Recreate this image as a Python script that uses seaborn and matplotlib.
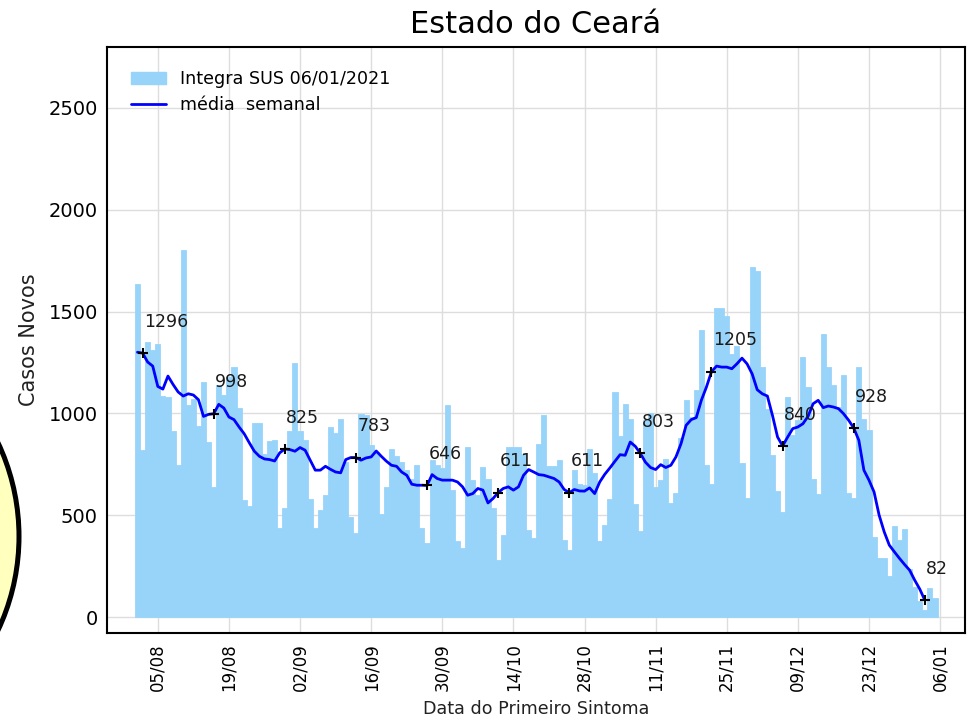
import numpy as np
import pandas as pd
import matplotlib
matplotlib.use("Agg")
import matplotlib.pyplot as plt
import matplotlib.dates as mdates
from matplotlib.patches import Ellipse, Patch
from matplotlib.lines import Line2D
import seaborn as sns

# casos novos por data do primeiro sintoma, 01/08/2020 a 05/01/2021
casos = [1636, 819, 1350, 1309, 1341, 1085, 1080, 913, 747, 1804,
         1039, 1070, 940, 1152, 858, 639, 1140, 1092, 1180, 1229,
         1026, 574, 546, 954, 954, 800, 864, 871, 438, 536,
         912, 1248, 912, 870, 577, 438, 524, 600, 933, 904,
         974, 760, 492, 410, 997, 990, 843, 810, 508, 639,
         823, 790, 761, 721, 680, 745, 435, 364, 770, 745,
         732, 1039, 623, 374, 340, 833, 675, 598, 737, 680,
         536, 279, 402, 833, 833, 833, 800, 426, 386, 851,
         990, 742, 742, 770, 377, 328, 721, 655, 647, 824,
         709, 374, 451, 577, 1103, 887, 1047, 974, 557, 423,
         969, 1000, 636, 675, 778, 560, 611, 881, 1067, 982,
         1113, 1410, 745, 655, 1518, 1518, 1480, 1292, 1333, 757,
         585, 1717, 1701, 1227, 1023, 794, 618, 516, 1080, 892,
         966, 1279, 1129, 680, 606, 1391, 1227, 1137, 1031, 1186,
         611, 582, 1227, 974, 920, 391, 292, 288, 203, 446,
         377, 430, 234, 149, 78, 34, 144, 91]

# media semanal, 01/08/2020 a 03/01/2021
media = [1300, 1296, 1252, 1232, 1132, 1119, 1183, 1142, 1105, 1085,
         1096, 1090, 1067, 985, 995, 998, 1044, 1026, 982, 969,
         933, 900, 856, 814, 789, 776, 773, 766, 806, 825,
         822, 814, 832, 819, 770, 721, 721, 740, 725, 712,
         708, 773, 783, 783, 770, 781, 786, 815, 789, 765,
         745, 740, 712, 696, 652, 647, 647, 646, 699, 680,
         672, 672, 672, 663, 639, 598, 606, 631, 623, 560,
         582, 611, 631, 639, 623, 639, 696, 724, 712, 699,
         696, 688, 680, 663, 626, 611, 626, 619, 618, 634,
         606, 663, 701, 732, 765, 797, 794, 859, 838, 803,
         760, 734, 724, 748, 734, 745, 786, 851, 941, 969,
         979, 1064, 1129, 1205, 1232, 1227, 1227, 1219, 1243, 1271,
         1243, 1194, 1116, 1096, 1085, 990, 884, 840, 884, 925,
         933, 949, 985, 1047, 1064, 1028, 1036, 1031, 1023, 998,
         966, 928, 868, 721, 672, 614, 500, 418, 353, 320,
         288, 258, 230, 181, 137, 82]

datas = pd.date_range("2020-08-01", periods=len(casos), freq="D")
datas_media = datas[:len(media)]
marcados = list(range(1, len(media), 14))
ticks = pd.date_range("2020-08-05", "2021-01-06", freq="14D")

sns.set_style("white")
plt.rcParams["font.family"] = ["DejaVu Sans"]
plt.rcParams["text.color"] = "black"
plt.rcParams["axes.labelcolor"] = "#222222"
plt.rcParams["xtick.color"] = "black"
plt.rcParams["ytick.color"] = "black"

fig, ax = plt.subplots(figsize=(9.71, 7.19), dpi=100)
fig.subplots_adjust(left=0.1102, right=0.9938, top=0.935, bottom=0.1192)

cor_barra = "#98d4fa"
ax.bar(datas, casos, width=1.0, color=cor_barra, edgecolor=cor_barra,
       linewidth=0.6, zorder=2)
sns.lineplot(x=datas_media, y=media, ax=ax, color="blue", lw=2, zorder=3, legend=False)

# marcas a cada 14 dias
ax.plot(datas_media[marcados], [media[i] for i in marcados], "+", color="black",
        ms=7, mew=1.5, zorder=4)
for i in marcados:
    ax.annotate(str(media[i]), (datas_media[i], media[i]), xytext=(1, 19),
                textcoords="offset points", fontsize=12.5, ha="left", va="baseline",
                color="#1a1a1a", zorder=5)

ax.set_xlim(datas[0] - pd.Timedelta(days=6.0), datas[0] + pd.Timedelta(days=162.9))
ax.set_ylim(-80, 2800)
ax.set_yticks([0, 500, 1000, 1500, 2000, 2500])
ax.set_xticks(ticks)
ax.xaxis.set_major_formatter(mdates.DateFormatter("%d/%m"))
ax.tick_params(axis="x", direction="in", labelsize=12, rotation=90, pad=7, length=4)
ax.tick_params(axis="y", direction="in", labelsize=14, pad=6.5, length=4)

ax.grid(True, color="#dddddd", lw=1)
ax.set_axisbelow(True)
for s in ax.spines.values():
    s.set_color("black")
    s.set_linewidth(1.5)

ax.set_title("Estado do Ceará", fontsize=22, pad=9.6, color="black")
ax.set_ylabel("Casos Novos", fontsize=15)
ax.yaxis.set_label_coords(-0.0787, 0.5)
ax.set_xlabel("Data do Primeiro Sintoma", fontsize=12.6)
ax.xaxis.set_label_coords(0.5, -0.1137)

handles = [Patch(color=cor_barra), Line2D([], [], color="blue", lw=2)]
ax.legend(handles, ["Integra SUS 06/01/2021", "média  semanal"], loc="upper left",
          bbox_to_anchor=(0.0195, 0.972), borderaxespad=0, frameon=False,
          fontsize=12.6, labelspacing=0.45)

# circulo amarelo na borda esquerda
r = 220
fig.add_artist(Ellipse((-201 / 971, 1 - 536.5 / 719), 2 * r / 971, 2 * r / 719,
                       transform=fig.transFigure, facecolor="#ffffbe",
                       edgecolor="black", lw=3.6, clip_on=False))

fig.savefig("out.png", dpi=100)
